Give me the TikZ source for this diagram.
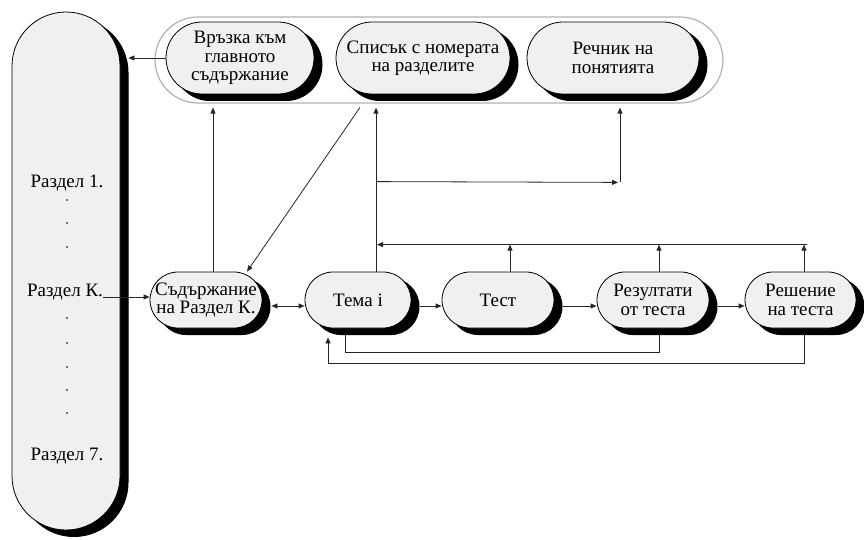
\documentclass[tikz,border=0pt]{standalone}
\usepackage{fontspec}
\setmainfont{Liberation Serif}
\usetikzlibrary{arrows.meta,calc}
\begin{document}
\begin{tikzpicture}[x=1pt,y=-1pt,
  capsule/.style={draw=black, line width=0.8pt, fill=gray!12, align=center, inner sep=0pt,
    font=\fontsize{19}{18.5}\selectfont,
    preaction={draw=black, line width=1pt, fill=black, transform canvas={shift={(8pt,-6.5pt)}}}},
  topbox/.style={capsule, rounded corners=36pt, minimum height=72pt},
  midbox/.style={capsule, rounded corners=28pt, minimum height=56pt, minimum width=112pt},
  lbl/.style={inner sep=0pt, font=\fontsize{19}{19}\selectfont},
  dotmark/.style={circle, fill=black!70, inner sep=0pt, minimum size=2.4pt},
  conn/.style={line width=0.8pt, draw=black!85},
  arr/.style={conn, -{Triangle[length=6pt,width=5pt]}},
  darr/.style={conn, {Triangle[length=6pt,width=5pt]}-{Triangle[length=6pt,width=5pt]}}
]
\useasboundingbox (0,0) rectangle (864,540);

% top group
\node[draw=gray!60, line width=1.2pt, rounded corners=43pt, minimum width=568pt, minimum height=86pt, inner sep=0pt] (outer) at (439,60) {};
\node[topbox, minimum width=148pt] (vr) at (240,58) {Връзка към\\главното\\съдържание};
\node[topbox, minimum width=174pt] (sp) at (423,58) {Списък с номерата\\на разделите};
\node[topbox, minimum width=172pt] (rc) at (613,58) {Речник на\\понятията};

% left capsule
\node[capsule, rounded corners=54pt, minimum width=108pt, minimum height=518pt] (left) at (66,271) {};
\node[lbl] (r1) at (67,183) {Раздел 1.};
\node[dotmark] (d1) at (67,200) {};
\node[dotmark] (d2) at (67,223) {};
\node[dotmark] (d3) at (67,247) {};
\node[lbl] (rk) at (65,292) {Раздел К.};
\node[dotmark] (d4) at (67,318) {};
\node[dotmark] (d5) at (67,343) {};
\node[dotmark] (d6) at (67,367) {};
\node[dotmark] (d7) at (67,390) {};
\node[dotmark] (d8) at (67,413) {};
\node[lbl] (r7) at (67,456) {Раздел 7.};

% middle row
\node[midbox] (sd) at (206,300) {Съдържание\\на Раздел К.};
\node[midbox, minimum width=106pt] (tm) at (358,300) {Тема i};
\node[midbox] (ts) at (498,300) {Тест};
\node[midbox] (rz) at (653,300) {Резултати\\от теста};
\node[midbox, minimum width=111pt] (rs) at (800.5,300) {Решение\\на теста};

% link to left capsule
\draw[arr] (vr.west) -- ($(vr.west -| left.east)+(8,0)$);

% vertical from Съдържание to Връзка
\coordinate (a1) at ($(sd.north)+(7,0)$);
\draw[arr, shorten >=4pt] (a1) -- (a1 |- outer.south);

% diagonal from Списък to Съдържание
\draw[arr] ($(sp.south)+(-63,13)$) -- ($(sd.north)+(41,0)$);

% vertical from Тема to Списък
\coordinate (t1) at ($(tm.north)+(18,0)$);
\draw[arr, shorten >=4pt] (t1) -- (t1 |- outer.south);

% branch to Речник
\coordinate (h1) at ($(t1)+(0,-90)$);
\coordinate (h2) at ($(rc.south)+(5,88)$);
\draw[arr] (h1) -- (h2);
\coordinate (h3) at ($(rc.south)+(7,88)$);
\draw[arr, shorten >=4pt] (h3) -- (h3 |- outer.south);

% feedback line
\coordinate (f0) at ($(rs.north)+(6,-27)$);
\draw[arr, shorten >=1pt] (f0) -- (t1 |- f0);
\coordinate (s1) at ($(ts.north)+(12,0)$);
\coordinate (s2) at ($(rz.north)+(6,0)$);
\coordinate (s3) at ($(rs.north)+(3.5,0)$);
\draw[arr] (s1) -- (s1 |- f0);
\draw[arr] (s2) -- (s2 |- f0);
\draw[arr] (s3) -- (s3 |- f0);

% middle arrows
\draw[arr] ($(rk.east)+(0,5)$) -- ($(rk.east -| sd.west)+(0,5)$);
\draw[darr] ($(sd.east)+(9,6)$) -- ($(tm.west)+(0,6)$);
\draw[arr] ($(tm.east)+(9,6)$) -- ($(ts.west)+(0,6)$);
\draw[arr] ($(ts.east)+(9,6)$) -- ($(rz.west)+(0,6)$);
\draw[arr] ($(rz.east)+(9,6)$) -- ($(rs.west)+(0,6)$);

% bottom loops
\coordinate (b1) at ($(rz.south)+(6,7)$);
\coordinate (b2) at ($(tm.south)+(-13,24)$);
\coordinate (b3) at ($(tm.south)+(-13,7)$);
\draw[conn] (b1) |- (b2) -- (b3);
\coordinate (c1) at ($(rs.south)+(3.5,7)$);
\coordinate (c2) at ($(tm.south)+(-30,35)$);
\coordinate (c3) at ($(tm.south)+(-30,9)$);
\draw[arr] (c1) |- (c2) -- (c3);
\end{tikzpicture}
\end{document}
